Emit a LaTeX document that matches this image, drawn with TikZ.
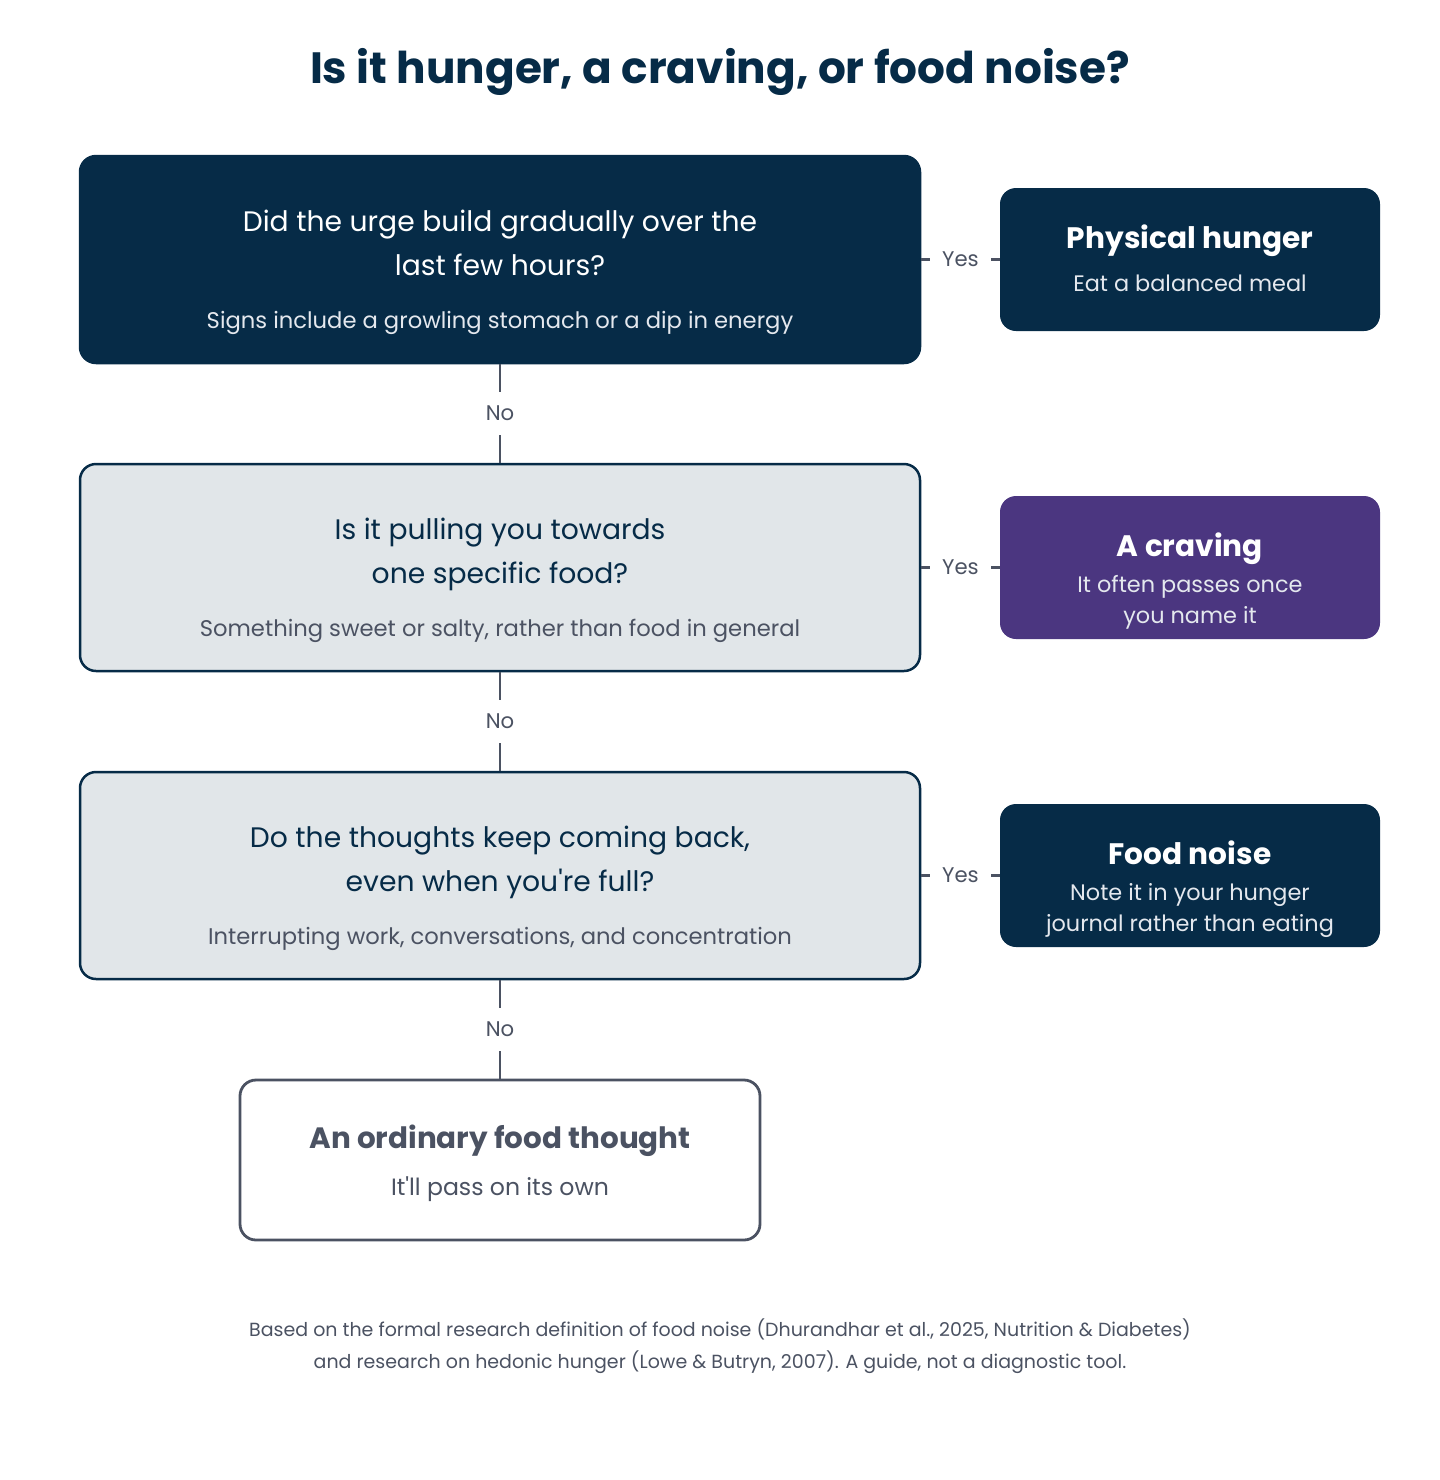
\documentclass[tikz,border=0pt]{standalone}
\usepackage{fontspec}
\newfontfamily\pop{Poppins}
\definecolor{navy}{HTML}{062B47}
\definecolor{plum}{HTML}{4B3680}
\definecolor{mist}{HTML}{E1E6E9}
\definecolor{slate}{HTML}{4B5262}
\definecolor{softw}{HTML}{E4E8EE}
\begin{document}
\begin{tikzpicture}[x=0.5pt,y=-0.5pt, font=\pop,
  qbox/.style={rectangle, rounded corners=8pt, minimum width=420pt, minimum height=103.5pt, line width=1.25pt, draw=navy},
  rbox/.style={rectangle, rounded corners=8pt, minimum width=190pt, minimum height=71.5pt, draw=none},
  qline/.style={anchor=base, font=\pop\fontsize{14.1}{17}\selectfont},
  qsub/.style={anchor=base, font=\pop\fontsize{11.33}{13}\selectfont},
  rtitle/.style={anchor=base, font=\pop\fontsize{14.8}{18}\selectfont\bfseries, text=white},
  rsub/.style={anchor=base, font=\pop\fontsize{11.2}{14}\selectfont, text=softw},
  conn/.style={draw=slate, line width=1.2pt},
  lbl/.style={fill=white, text=slate, inner xsep=6pt, inner ysep=7pt, font=\pop\fontsize{10.6}{12}\selectfont}
]
\useasboundingbox (0,0) rectangle (1440,1480);
\node[anchor=base, font=\pop\fontsize{21.9}{26}\selectfont\bfseries, text=navy] (title) at (720,83) {Is it hunger, a craving, or food noise?};

% question boxes
\node[qbox, fill=navy] (q1) at (500,259.5) {};
\node[qbox, fill=mist] (q2) at (500,567.5) {};
\node[qbox, fill=mist] (q3) at (500,875.5) {};
\node[rectangle, rounded corners=8pt, minimum width=260pt, minimum height=80pt, line width=1.4pt, draw=slate, fill=white] (end) at (500,1160) {};

% result boxes
\node[rbox, fill=navy] (r1) at (1190,259.5) {};
\node[rbox, fill=plum] (r2) at (1190,567.5) {};
\node[rbox, fill=navy] (r3) at (1190,875.5) {};

% texts q1
\node[qline, text=white] (q1a) at (500,231) {Did the urge build gradually over the};
\node[qline, text=white] (q1b) at (500,275) {last few hours?};
\node[qsub, text=softw] (q1c) at (500,328) {Signs include a growling stomach or a dip in energy};
% texts q2
\node[qline, text=navy] (q2a) at (500,539) {Is it pulling you towards};
\node[qline, text=navy] (q2b) at (500,583) {one specific food?};
\node[qsub, text=slate] (q2c) at (500,636) {Something sweet or salty, rather than food in general};
% texts q3
\node[qline, text=navy] (q3a) at (500,847) {Do the thoughts keep coming back,};
\node[qline, text=navy] (q3b) at (500,891) {even when you're full?};
\node[qsub, text=slate] (q3c) at (500,944) {Interrupting work, conversations, and concentration};
% end texts
\node[anchor=base, font=\pop\fontsize{14.7}{18}\selectfont\bfseries, text=slate] (enda) at (500,1148) {An ordinary food thought};
\node[anchor=base, font=\pop\fontsize{11.8}{14}\selectfont, text=slate] (endb) at (500,1195) {It'll pass on its own};

% result texts
\node[rtitle] (r1a) at (1190,248) {Physical hunger};
\node[rsub] (r1b) at (1190,291) {Eat a balanced meal};
\node[rtitle] (r2a) at (1190,556) {A craving};
\node[rsub] (r2b) at (1190,592) {It often passes once};
\node[rsub] (r2c) at (1190,623) {you name it};
\node[rtitle] (r3a) at (1190,864) {Food noise};
\node[rsub] (r3b) at (1190,900) {Note it in your hunger};
\node[rsub] (r3c) at (1190,931) {journal rather than eating};

% connectors
\draw[conn] (q1.east) -- (r1.west) node[midway, lbl] (y1) {Yes};
\draw[conn] (q2.east) -- (r2.west) node[midway, lbl] (y2) {Yes};
\draw[conn] (q3.east) -- (r3.west) node[midway, lbl] (y3) {Yes};
\draw[conn] (q1.south) -- (q2.north) node[midway, lbl] (n1) {No};
\draw[conn] (q2.south) -- (q3.north) node[midway, lbl] (n2) {No};
\draw[conn] (q3.south) -- (end.north) node[midway, lbl] (n3) {No};

% footnote
\node[anchor=base, font=\pop\fontsize{9.5}{11}\selectfont, text=slate] (f1) at (720,1336) {Based on the formal research definition of food noise (Dhurandhar et al., 2025, Nutrition \& Diabetes)};
\node[anchor=base, font=\pop\fontsize{9.5}{11}\selectfont, text=slate] (f2) at (720,1368) {and research on hedonic hunger (Lowe \& Butryn, 2007). A guide, not a diagnostic tool.};
\end{tikzpicture}
\end{document}
